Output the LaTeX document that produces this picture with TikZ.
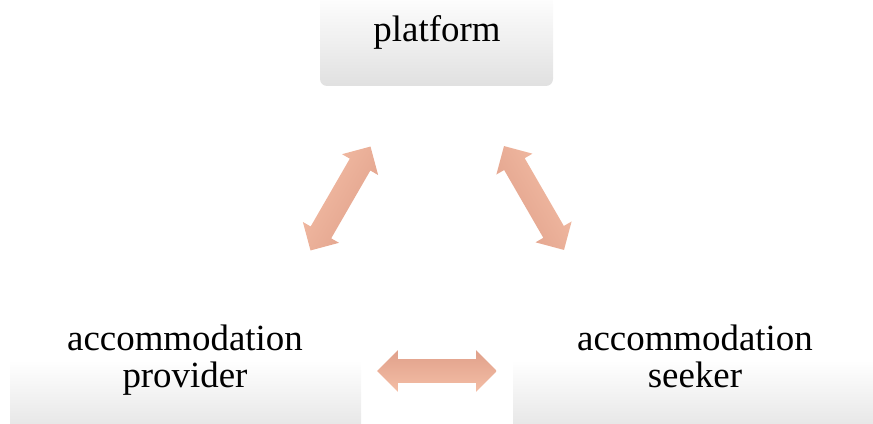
\documentclass[tikz,border=0pt]{standalone}
\usepackage{fontspec}
\setmainfont{Liberation Serif}
\usetikzlibrary{positioning,shapes.arrows}

\definecolor{salmonlight}{HTML}{F4BEA6}
\definecolor{salmondark}{HTML}{E0A08A}

\tikzset{
  role/.style={font=\fontsize{21}{21.5}\selectfont, align=center, inner sep=0pt},
  panel/.style={top color=white, bottom color=black!12},
  link/.style={double arrow, inner xsep=0pt, inner ysep=0.23cm,
    minimum height=2.4cm, double arrow head extend=0.18cm,
    double arrow tip angle=90, draw=none,
    top color=salmonlight, bottom color=salmondark}
}

\begin{document}
\begin{tikzpicture}[x=0.02cm, y=0.02cm]
    \useasboundingbox (0,0) rectangle (873,423);
    % shaded panels behind the three parties
    \shade[panel, rounded corners=0.14cm] (320,337) rectangle (553,430);
    \shade[panel] (10,-20) rectangle (361,63);
    \shade[panel] (513,-20) rectangle (873,63);
    % the three parties
    \node[role, anchor=base] (platform) at (437,381) {platform};
    \node[role, anchor=base] (provider) at (185,35) {accommodation\\provider};
    \node[role, anchor=base] (seeker) at (695,35) {accommodation\\seeker};
    % two-way links between them
    \node[link, rotate=60, shading angle=60] (provlink) at (340.5,224.5) {};
    \node[link, rotate=-60, shading angle=-60] (seeklink) at (534,225) {};
    \node[link, top color=salmondark, bottom color=salmonlight] (baselink) at (437,52) {};
\end{tikzpicture}
\end{document}
